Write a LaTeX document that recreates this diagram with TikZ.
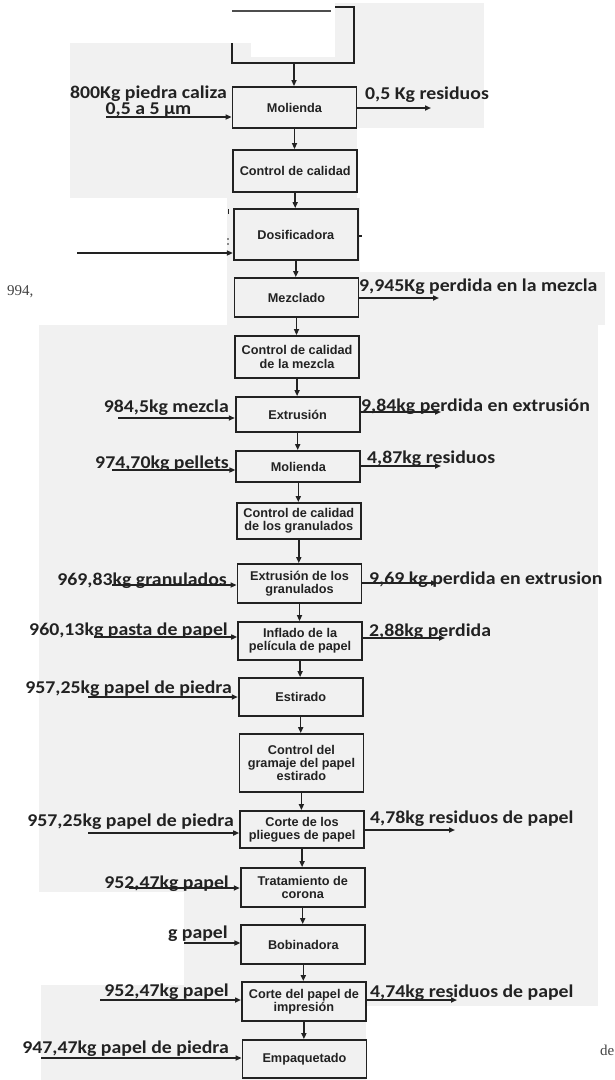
\documentclass[tikz,border=0pt]{standalone}
\usepackage{fontspec}
\usepackage{graphicx}
\usetikzlibrary{arrows.meta}
\newfontfamily\labfont{Carlito}
\newfontfamily\boxfont{Liberation Sans}
\newfontfamily\scanserif{Liberation Serif}
\definecolor{ink}{HTML}{222222}
\definecolor{scan}{HTML}{F1F1F1}
\newcommand{\sx}[1]{\scalebox{1.1}[1]{#1}}
\tikzset{
  box/.style={draw=ink, line width=1.8pt, minimum width=124pt, align=center, inner sep=0pt,
    font=\boxfont\bfseries\fontsize{12.7}{13.3}\selectfont, text=ink},
  flow/.style={draw=ink, line width=1.5pt, -{Triangle[length=6pt,width=5pt]}},
  lab/.style={font=\labfont\bfseries\fontsize{18}{18}\selectfont, inner sep=0pt, text=ink},
  serifnote/.style={font=\scanserif\fontsize{15}{15}\selectfont, inner sep=0pt, text=ink!85},
  patch/.style={fill=scan, draw=none},
}
\begin{document}
\begin{tikzpicture}[x=1pt,y=-1pt]
\useasboundingbox (0,0) rectangle (615,1080);
\fill[white] (0,0) rectangle (615,1080);
% scanned background patches
\fill[patch] (70,43) rectangle (484,128);
\fill[patch] (335,3) rectangle (484,43);
\fill[white] (251,0) rectangle (335,57);
\fill[patch] (70,128) rectangle (357,198);
\fill[patch] (227,198) rectangle (360,272);
\fill[patch] (227,272) rectangle (605,325);
\fill[patch] (39,325) rectangle (598,892);
\fill[patch] (184,892) rectangle (598,1006);
\fill[patch] (41,985) rectangle (366,1080);

% top bracket
\draw[ink!80, line width=1.2pt] (232,11) -- (331,11);
\coordinate (b1) at (232,43);
\coordinate (b2) at (232,63);
\coordinate (b3) at (354,63);
\coordinate (b4) at (354,7);
\coordinate (b5) at (335,7);
\coordinate (brk) at (294,63);
\draw[ink, line width=1.8pt] (b1) -- (b2) -- (b3) -- (b4) -- (b5);

% boxes
\node[box, minimum height=41pt] (mol1) at (294.5,107.5) {Molienda};
\node[box, minimum height=42pt] (cc1) at (295.2,171) {Control de calidad};
\node[box, minimum height=51pt] (dos) at (295.8,234.5) {Dosificadora};
\node[box, minimum height=39pt] (mez) at (296.5,297.5) {Mezclado};
\node[box, minimum height=42pt] (ccm) at (297.1,357) {Control de calidad\\de la mezcla};
\node[box, minimum height=35pt] (ext) at (297.7,414.5) {Extrusión};
\node[box, minimum height=31pt] (mol2) at (298.3,466.5) {Molienda};
\node[box, minimum height=36pt] (ccg) at (298.8,521) {Control de calidad\\de los granulados};
\node[box, minimum height=39pt] (eg) at (299.5,583.5) {Extrusión de los\\granulados};
\node[box, minimum height=38pt] (inf) at (300.1,641) {Inflado de la\\película de papel};
\node[box, minimum height=38pt] (est) at (300.7,697) {Estirado};
\node[box, minimum height=58pt] (cgr) at (301.4,763) {Control del\\gramaje del papel\\estirado};
\node[box, minimum height=37pt] (cpl) at (302.1,829.5) {Corte de los\\pliegues de papel};
\node[box, minimum height=39pt] (tra) at (302.7,887.5) {Tratamiento de\\corona};
\node[box, minimum height=39pt] (bob) at (303.3,944.5) {Bobinadora};
\node[box, minimum height=39pt] (cpi) at (303.9,1001.5) {Corte del papel de\\impresión};
\node[box, minimum height=38pt] (emp) at (304.5,1059) {Empaquetado};

% vertical flow
\draw[flow] (brk) -- (brk |- mol1.north);
\foreach \a/\b in {mol1/cc1, cc1/dos, dos/mez, mez/ccm, ccm/ext, ext/mol2, mol2/ccg, ccg/eg,
  eg/inf, inf/est, est/cgr, cgr/cpl, cpl/tra, tra/bob, bob/cpi, cpi/emp}
  \draw[flow] (\a.south) -- (\a.south |- \b.north);

% inputs
\coordinate (i1) at (106,117);
\coordinate (i2) at (77,253);
\coordinate (i3) at (118,418);
\coordinate (i4) at (112,470);
\coordinate (i5) at (112,585);
\coordinate (i6) at (94,637);
\coordinate (i7) at (88,697);
\coordinate (i8) at (88,833);
\coordinate (i9) at (129,888);
\coordinate (i10) at (184,943);
\coordinate (i11) at (100,1000);
\coordinate (i12) at (41,1058);
\draw[flow] (i1) -- (i1 -| mol1.west);
\draw[flow] (i2) -- (i2 -| dos.west);
\draw[flow] (i3) -- (i3 -| ext.west);
\draw[flow] (i4) -- (i4 -| mol2.west);
\draw[flow] (i5) -- (i5 -| eg.west);
\draw[flow] (i6) -- (i6 -| inf.west);
\draw[flow] (i7) -- (i7 -| est.west);
\draw[flow] (i8) -- (i8 -| cpl.west);
\draw[flow] (i9) -- (i9 -| tra.west);
\draw[flow] (i10) -- (i10 -| bob.west);
\draw[flow] (i11) -- (i11 -| cpi.west);
\draw[flow] (i12) -- (i12 -| emp.west);

% outputs
\coordinate (o1) at (431,108);
\coordinate (o2) at (439,298);
\coordinate (o3) at (441,412);
\coordinate (o4) at (441,466);
\coordinate (o5) at (437,583);
\coordinate (o6) at (445,638);
\coordinate (o7) at (455,830);
\coordinate (o8) at (457,1000);
\draw[flow] (o1 -| mol1.east) -- (o1);
\draw[flow] (o2 -| mez.east) -- (o2);
\draw[flow] (o3 -| ext.east) -- (o3);
\draw[flow] (o4 -| mol2.east) -- (o4);
\draw[flow] (o5 -| eg.east) -- (o5);
\draw[flow] (o6 -| inf.east) -- (o6);
\draw[flow] (o7 -| cpl.east) -- (o7);
\draw[flow] (o8 -| cpi.east) -- (o8);

% Dosificadora scan marks
\draw[ink, line width=1pt] (228,209) -- (228,214);
\fill[ink] (228,239) circle (0.9);
\fill[ink] (228,244) circle (0.9);
\draw[ink, line width=1.2pt] (357,236) -- (362,236);

% left labels
\node[lab, align=center, font=\labfont\bfseries\fontsize{18}{13}\selectfont] (l1) at (148.5,102)
  {\sx{800Kg piedra caliza}\\\sx{0,5 a 5 µm}};
\node[lab, anchor=base east] (l3) at (229,412) {\sx{984,5kg mezcla}};
\node[lab, anchor=base east] (l4) at (229,468) {\sx{974,70kg pellets}};
\node[lab, anchor=base east] (l5) at (227,585) {\sx{969,83kg granulados}};
\node[lab, anchor=base east] (l6) at (228,635) {\sx{960,13kg pasta de papel}};
\node[lab, anchor=base east] (l7) at (232,693) {\sx{957,25kg papel de piedra}};
\node[lab, anchor=base east] (l8) at (234,826) {\sx{957,25kg papel de piedra}};
\node[lab, anchor=base east] (l9) at (229,888) {\sx{952,47kg papel}};
\node[lab, anchor=base east] (l10) at (228,938) {\sx{g papel}};
\node[lab, anchor=base east] (l11) at (229,996) {\sx{952,47kg papel}};
\node[lab, anchor=base east] (l12) at (229,1053) {\sx{947,47kg papel de piedra}};

% right labels
\node[lab, anchor=base west] (r1) at (365,99) {\sx{0,5 Kg residuos}};
\node[lab, anchor=base west] (r2) at (359,291) {\sx{9,945Kg perdida en la mezcla}};
\node[lab, anchor=base west] (r3) at (361,411) {\sx{9,84kg perdida en extrusión}};
\node[lab, anchor=base west] (r4) at (367,463) {\sx{4,87kg residuos}};
\node[lab, anchor=base west] (r5) at (369,584) {\sx{9,69 kg perdida en extrusion}};
\node[lab, anchor=base west] (r6) at (369,636) {\sx{2,88kg perdida}};
\node[lab, anchor=base west] (r7) at (370,823) {\sx{4,78kg residuos de papel}};
\node[lab, anchor=base west] (r8) at (370,997) {\sx{4,74kg residuos de papel}};

% stray page text
\node[serifnote, anchor=base west] (n1) at (7,295) {994,};
\node[serifnote, anchor=base west] (n2) at (600,1055) {de};
\end{tikzpicture}
\end{document}
